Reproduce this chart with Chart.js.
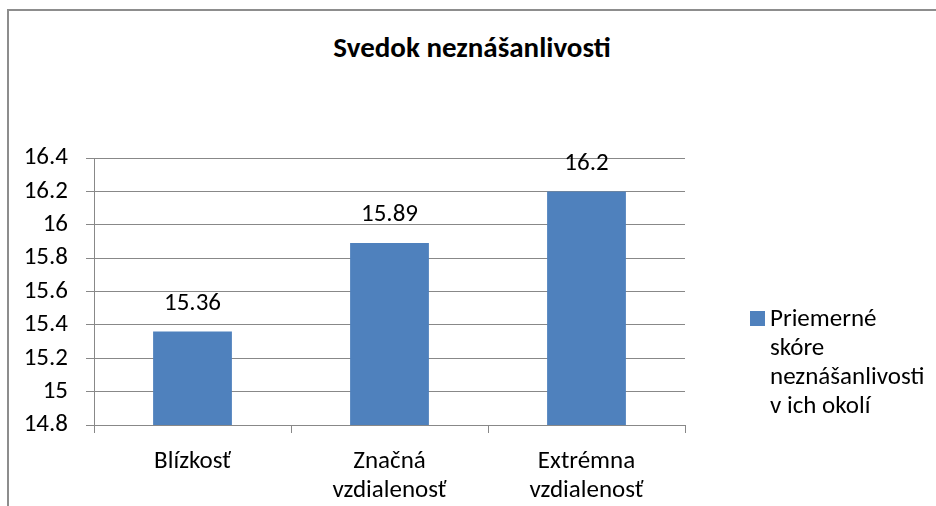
<!DOCTYPE html>
<html>
<head>
<meta charset="utf-8">
<script src="https://cdn.jsdelivr.net/npm/chart.js@4.4.1/dist/chart.umd.min.js"></script>
<style>
    html, body { margin: 0; padding: 0; background: #fff; overflow: hidden; }
    #wrap { position: relative; width: 936px; height: 506px; font-family: Carlito, Lato, sans-serif; }
    #frame { position: absolute; left: 7px; top: 9px; width: 1000px; height: 600px; border: 2px solid #8d8d8d; box-sizing: border-box; }
    #chartBox { position: absolute; left: 0; top: 0; width: 936px; height: 506px; }
    #chartTitle { position: absolute; left: 0; top: 30px; width: 944px; text-align: center; font-size: 29px; line-height: 35px; font-weight: bold; color: #000; }
    #legendBox { position: absolute; left: 750px; top: 311px; width: 15px; height: 15px; }
    #legendText { position: absolute; left: 770px; top: 303px; font-size: 25px; line-height: 29px; color: #000; white-space: nowrap; }
</style>
</head>
<body>
<div id="wrap">
    <div id="frame"></div>
    <div id="chartTitle"></div>
    <div id="chartBox"><canvas id="barChart"></canvas></div>
    <div id="legendBox"></div>
    <div id="legendText"></div>
</div>
<script>
// Chart data
const chartTitle = 'Svedok neznášanlivosti';
const categories = [['Blízkosť'], ['Značná', 'vzdialenosť'], ['Extrémna', 'vzdialenosť']];
const seriesLabel = ['Priemerné', 'skóre', 'neznášanlivosti', 'v ich okolí'];
const seriesValues = [15.36, 15.89, 16.2];
const yTicks = [14.8, 15, 15.2, 15.4, 15.6, 15.8, 16, 16.2, 16.4];

const barColor = '#4F81BD';
const gridColor = '#888888';
const fontFamily = 'Carlito, Lato, sans-serif';

// Title + legend (html)
document.getElementById('chartTitle').textContent = chartTitle;
document.getElementById('legendBox').style.background = barColor;
document.getElementById('legendText').innerHTML = seriesLabel.join('<br>');

// Value labels above bars
const valueLabels = {
    id: 'valueLabels',
    afterDatasetsDraw(chart) {
        const ctx = chart.ctx;
        ctx.save();
        ctx.font = '25px ' + fontFamily;
        ctx.fillStyle = '#000';
        ctx.textAlign = 'center';
        ctx.textBaseline = 'middle';
        chart.getDatasetMeta(0).data.forEach((bar, i) => {
            ctx.fillText(String(seriesValues[i]), bar.x, bar.y - 28);
        });
        ctx.restore();
    }
};

const ctx = document.getElementById('barChart').getContext('2d');
new Chart(ctx, {
    type: 'bar',
    data: {
        labels: categories,
        datasets: [{
            label: seriesLabel.join(' '),
            data: seriesValues,
            backgroundColor: barColor,
            borderWidth: 0,
            categoryPercentage: 1,
            barPercentage: 0.4
        }]
    },
    options: {
        responsive: true,
        maintainAspectRatio: false,
        animation: false,
        layout: { padding: { left: 0, right: 251, top: 158, bottom: 0 } },
        plugins: {
            legend: { display: false },
            tooltip: { enabled: false },
            title: { display: false }
        },
        scales: {
            x: {
                grid: { display: true, drawOnChartArea: false, color: gridColor, tickLength: 8, offset: true },
                border: { color: gridColor, width: 1 },
                ticks: {
                    color: '#000',
                    font: { family: fontFamily, size: 25, lineHeight: '29px' },
                    padding: 14,
                    maxRotation: 0,
                    autoSkip: false
                },
                afterFit(scale) { scale.height = 81; }
            },
            y: {
                min: yTicks[0],
                max: yTicks[yTicks.length - 1],
                afterBuildTicks(scale) { scale.ticks = yTicks.map(v => ({ value: v })); },
                grid: { color: gridColor, tickLength: 8 },
                border: { color: gridColor, width: 1 },
                ticks: {
                    color: '#000',
                    font: { family: fontFamily, size: 25 },
                    padding: 18,
                    callback: v => String(+v.toFixed(1))
                },
                afterFit(scale) { scale.width = 94; }
            }
        }
    },
    plugins: [valueLabels]
});
</script>
</body>
</html>
